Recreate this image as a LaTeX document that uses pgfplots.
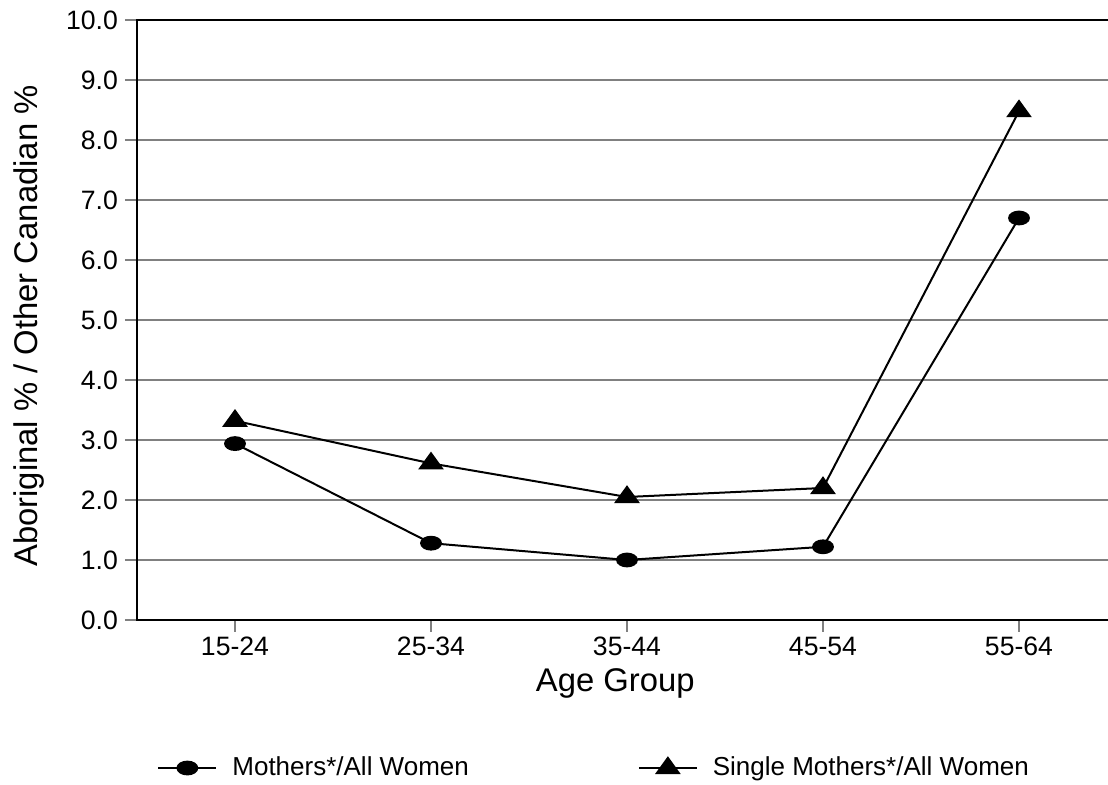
\documentclass[border=0pt]{standalone}
\usepackage{pgfplots}
\pgfplotsset{compat=1.18}
\usepackage{fontspec}
\setmainfont{Liberation Sans}
\definecolor{gridgray}{RGB}{128,128,128}
\begin{document}
\begin{tikzpicture}
\begin{axis}[
  at={(0,0)}, anchor=south west,
  scale only axis,
  width=490pt, height=300pt,
  xmin=-0.5, xmax=4.5,
  ymin=0, ymax=10,
  xtick={0,1,2,3,4},
  xticklabels={15-24,25-34,35-44,45-54,55-64},
  ytick={0,1,...,10},
  yticklabel={\pgfmathprintnumber[fixed,fixed zerofill,precision=1]{\tick}},
  /pgf/number format/assume math mode=true,
  tick label style={font=\fontsize{13.3pt}{15pt}\selectfont},
  xticklabel style={text height=9.5pt, text depth=0pt, anchor=north, yshift=1.5pt},
  tick align=outside,
  xtick pos=bottom, ytick pos=left,
  major tick length=6pt,
  x tick style={draw=gridgray, line width=1pt},
  y tick style={draw=gridgray, line width=1pt},
  ymajorgrids,
  grid style={draw=gridgray, line width=1pt},
  axis line style={black, line width=1pt},
  xlabel={Age Group},
  ylabel={Aboriginal \% / Other Canadian \%},
  label style={font=\fontsize{16.4pt}{19pt}\selectfont},
  xlabel style={at={(axis description cs:0.488,-0.12)}, anchor=base},
  ylabel style={at={(axis description cs:-0.102,0.49)}, anchor=base, rotate=0},
  clip=false,
  legend columns=2,
  legend style={draw=none, fill=none, inner sep=0pt,
    at={(axis description cs:0.0204,-0.2467)}, anchor=west,
    font=\fontsize{13pt}{15pt}\selectfont,
    /tikz/every odd column/.append style={column sep=5.5pt},
    /tikz/every even column/.append style={column sep=82.5pt}},
  legend cell align=left,
  legend image code/.code={\draw[mark repeat=2,mark phase=2,#1] plot coordinates {(0pt,0pt)(14.5pt,0pt)(29pt,0pt)};},
]
\addplot[black, line width=1pt, mark=*, mark size=3.2pt, mark options={xscale=1.55, solid}]
  coordinates {(0,2.94) (1,1.28) (2,1.00) (3,1.22) (4,6.70)};
\addlegendentry{Mothers*/All Women}
\addplot[black, line width=1pt, mark=triangle*, mark size=6.3pt, mark options={yscale=0.8, solid}]
  coordinates {(0,3.32) (1,2.61) (2,2.05) (3,2.20) (4,8.48)};
\addlegendentry{Single Mothers*/All Women}
\end{axis}
\pgfresetboundingbox
\path[use as bounding box] (-68.5pt,-82.5pt) rectangle (485.5pt,310pt);
\end{tikzpicture}
\end{document}
